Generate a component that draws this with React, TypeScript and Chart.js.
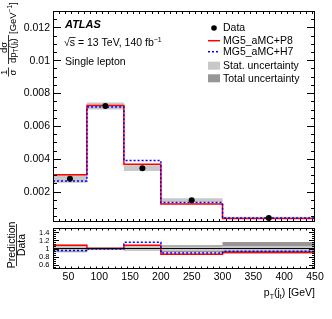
import React, { useEffect, useRef } from "react";
import { Chart, registerables } from "chart.js";
Chart.register(...registerables);

const FONT = '"Liberation Sans", Arial, Helvetica, sans-serif';

// ---- data ----
const binEdges = [25, 80, 140, 200, 300, 450];
const binCenters = [52.5, 110, 170, 250, 375];
const dataVals = [0.00279, 0.00721, 0.00343, 0.00148, 0.0004];
const p8Vals = [0.00302, 0.00724, 0.00367, 0.00125, 0.00036];
const h7Vals = [0.00265, 0.00715, 0.00389, 0.00133, 0.00039];
// relative uncertainties (fractions of data)
const totalUp = [0.09, 0.03, 0.05, 0.08, 0.16];
const totalDown = [0.09, 0.03, 0.05, 0.09, 0.13];
const statUp = [0.07, 0.02, 0.04, 0.05, 0.06];
const statDown = [0.07, 0.02, 0.04, 0.06, 0.07];
// prediction / data
const ratioP8 = [1.08, 1.0, 1.08, 0.86, 0.91];
const ratioH7 = [0.95, 0.99, 1.15, 0.89, 0.93];

// ---- ticks ----
const xMajorTicks = [50, 100, 150, 200, 250, 300, 350, 400, 450];
const xTickLabels = ["50", "100", "150", "200", "250", "300", "350", "400", "450"];
const yMainTicks = [0.002, 0.004, 0.006, 0.008, 0.01, 0.012];
const yMainLabels = ["0.002", "0.004", "0.006", "0.008", "0.01", "0.012"];
const yRatioTicks = [0.6, 0.8, 1, 1.2, 1.4];
const yRatioLabels = ["0.6", "0.8", "1", "1.2", "1.4"];

const X_MIN = 25, X_MAX = 450;
const Y_MIN = 0.00015, Y_MAX = 0.013;
const R_MIN = 0.5, R_MAX = 1.5;

const RED = "#ff0000";
const BLUE = "#0000ff";
const LIGHT = "#c8c8c8";
const DARK = "#969696";

function stepPoints(vals: number[]) {
  return binEdges.map((e, i) => ({ x: e, y: vals[Math.min(i, vals.length - 1)] }));
}

type Part = { t: string; size: number; dy?: number; style?: string };
function drawRich(ctx: CanvasRenderingContext2D, parts: Part[], x: number, y: number) {
  let cx = x;
  for (const p of parts) {
    ctx.font = `${p.style || ""} ${p.size}px ${FONT}`;
    ctx.fillText(p.t, cx, y + (p.dy || 0));
    cx += ctx.measureText(p.t).width;
  }
  return cx - x;
}
function richWidth(ctx: CanvasRenderingContext2D, parts: Part[]) {
  let w = 0;
  for (const p of parts) {
    ctx.font = `${p.style || ""} ${p.size}px ${FONT}`;
    w += ctx.measureText(p.t).width;
  }
  return w;
}

function drawTicks(
  chart: any,
  xMinorStep: number,
  xMajLen: number,
  xMinLen: number,
  yMajor: number[],
  yMinorStep: number,
  yMin: number,
  yMax: number,
  yMajLen: number,
  yMinLen: number
) {
  const { ctx, chartArea: a, scales } = chart;
  const xs = scales.x, ys = scales.y;
  ctx.save();
  ctx.strokeStyle = "#000";
  ctx.lineWidth = 1;
  ctx.beginPath();
  const nx = Math.round((X_MAX - X_MIN) / xMinorStep);
  for (let i = 0; i <= nx; i++) {
    const v = X_MIN + i * xMinorStep;
    if (v <= X_MIN || v >= X_MAX) continue;
    const isMaj = xMajorTicks.some((m) => Math.abs(m - v) < 1e-6);
    const len = isMaj ? xMajLen : xMinLen;
    const px = Math.round(xs.getPixelForValue(v)) + 0.5;
    ctx.moveTo(px, a.bottom);
    ctx.lineTo(px, a.bottom - len);
    ctx.moveTo(px, a.top);
    ctx.lineTo(px, a.top + len);
  }
  const ny = Math.round((yMax - 0) / yMinorStep) + 2;
  for (let i = 0; i <= ny; i++) {
    const v = i * yMinorStep;
    if (v <= yMin || v >= yMax) continue;
    const isMaj = yMajor.some((m) => Math.abs(m - v) < 1e-9);
    const len = isMaj ? yMajLen : yMinLen;
    const py = Math.round(ys.getPixelForValue(v)) + 0.5;
    ctx.moveTo(a.left, py);
    ctx.lineTo(a.left + len, py);
    ctx.moveTo(a.right, py);
    ctx.lineTo(a.right - len, py);
  }
  ctx.stroke();
  ctx.strokeRect(a.left + 0.5, a.top + 0.5, a.right - a.left - 1, a.bottom - a.top - 1);
  ctx.restore();
}

function rot(ctx: CanvasRenderingContext2D, sx: number, sy: number, fn: () => void) {
  ctx.save();
  ctx.translate(sx, sy);
  ctx.rotate(-Math.PI / 2);
  fn();
  ctx.restore();
}

const mainPlugin = {
  id: "mainDecor",
  afterDraw(chart: any) {
    const { ctx, scales } = chart;
    drawTicks(chart, 10, 6, 3, yMainTicks, 0.0005, Y_MIN, Y_MAX, 8, 4);
    ctx.save();
    ctx.fillStyle = "#000";
    // y tick labels
    ctx.textAlign = "right";
    ctx.textBaseline = "middle";
    ctx.font = `10.5px ${FONT}`;
    yMainTicks.forEach((v, i) => {
      ctx.fillText(yMainLabels[i], 50, scales.y.getPixelForValue(v) + 0.5);
    });
    // annotations
    ctx.textAlign = "left";
    ctx.textBaseline = "alphabetic";
    ctx.font = `bold italic 11px ${FONT}`;
    ctx.fillText("ATLAS", 65, 28);
    ctx.font = `10.5px ${FONT}`;
    const w1 = drawRich(ctx, [{ t: "\u221A", size: 10.5 }], 64, 46);
    const sW = richWidth(ctx, [{ t: "s", size: 10.5 }]);
    ctx.beginPath();
    ctx.moveTo(64 + w1 - 0.5, 37.5);
    ctx.lineTo(64 + w1 + sW + 0.5, 37.5);
    ctx.lineWidth = 0.8;
    ctx.strokeStyle = "#000";
    ctx.stroke();
    drawRich(
      ctx,
      [
        { t: "s = 13 TeV, 140 fb", size: 10.5 },
        { t: "\u22121", size: 7, dy: -4 },
      ],
      64 + w1,
      46
    );
    ctx.font = `10.5px ${FONT}`;
    ctx.fillText("Single lepton", 65, 65);

    // legend
    const lx = 223;
    const rows = [28, 40.7, 51.7, 65.7, 78.3];
    const labels = ["Data", "MG5_aMC+P8", "MG5_aMC+H7", "Stat. uncertainty", "Total uncertainty"];
    ctx.beginPath();
    ctx.arc(214, rows[0], 2.8, 0, Math.PI * 2);
    ctx.fill();
    ctx.strokeStyle = RED;
    ctx.lineWidth = 1.5;
    ctx.beginPath();
    ctx.moveTo(208, rows[1]);
    ctx.lineTo(220, rows[1]);
    ctx.stroke();
    ctx.strokeStyle = BLUE;
    ctx.setLineDash([2, 2]);
    ctx.beginPath();
    ctx.moveTo(208, rows[2]);
    ctx.lineTo(220, rows[2]);
    ctx.stroke();
    ctx.setLineDash([]);
    ctx.fillStyle = LIGHT;
    ctx.fillRect(208, rows[3] - 4, 12, 8);
    ctx.fillStyle = DARK;
    ctx.fillRect(208, rows[4] - 4, 12, 8);
    ctx.fillStyle = "#000";
    ctx.font = `10.5px ${FONT}`;
    ctx.textBaseline = "middle";
    labels.forEach((l, i) => ctx.fillText(l, lx, rows[i] + 0.5));

    // y title
    ctx.textBaseline = "alphabetic";
    ctx.textAlign = "left";
    // 1/sigma
    rot(ctx, 7, 75, () => drawRich(ctx, [{ t: "1", size: 9.5 }], 0, 0));
    ctx.beginPath();
    ctx.lineWidth = 0.8;
    ctx.strokeStyle = "#000";
    ctx.moveTo(8.5, 76.5);
    ctx.lineTo(8.5, 67.5);
    ctx.stroke();
    rot(ctx, 15.5, 75.5, () => drawRich(ctx, [{ t: "\u03C3", size: 9.5 }], 0, 0));
    // d sigma / dp_T(j_t)
    rot(ctx, 7, 53, () => drawRich(ctx, [{ t: "d\u03C3", size: 9.5 }], 0, 0));
    ctx.beginPath();
    ctx.moveTo(8.5, 64);
    ctx.lineTo(8.5, 35);
    ctx.stroke();
    rot(ctx, 15.5, 63, () =>
      drawRich(
        ctx,
        [
          { t: "dp", size: 9.5 },
          { t: "T", size: 6.5, dy: 2 },
          { t: "(j", size: 9.5 },
          { t: "t", size: 6.5, dy: 2 },
          { t: ")", size: 9.5 },
        ],
        0,
        0
      )
    );
    rot(ctx, 15.5, 34, () =>
      drawRich(
        ctx,
        [
          { t: "[GeV", size: 9.5 },
          { t: "\u22121", size: 6.5, dy: -4 },
          { t: "]", size: 9.5 },
        ],
        0,
        0
      )
    );
    ctx.restore();
  },
};

const ratioPlugin = {
  id: "ratioDecor",
  afterDraw(chart: any) {
    const { ctx, scales, chartArea: a } = chart;
    drawTicks(chart, 10, 5, 2.5, yRatioTicks, 0.05, R_MIN, R_MAX, 6, 3);
    ctx.save();
    ctx.fillStyle = "#000";
    ctx.textAlign = "right";
    ctx.textBaseline = "middle";
    ctx.font = `7.5px ${FONT}`;
    yRatioTicks.forEach((v, i) => {
      ctx.fillText(yRatioLabels[i], 49.5, scales.y.getPixelForValue(v) + 0.5);
    });
    ctx.textAlign = "center";
    ctx.textBaseline = "alphabetic";
    ctx.font = `10.5px ${FONT}`;
    xMajorTicks.forEach((v, i) => {
      ctx.fillText(xTickLabels[i], scales.x.getPixelForValue(v), a.bottom + 10.5);
    });
    // x title
    ctx.textAlign = "left";
    const parts: Part[] = [
      { t: "p", size: 10.5 },
      { t: "T", size: 7, dy: 3 },
      { t: "(j", size: 10.5 },
      { t: "t", size: 7, dy: 3 },
      { t: ") [GeV]", size: 10.5 },
    ];
    const w = richWidth(ctx, parts);
    drawRich(ctx, parts, 315 - w, 296);
    // y title Prediction / Data
    ctx.textAlign = "center";
    ctx.font = `10.5px ${FONT}`;
    rot(ctx, 14.5, 245, () => ctx.fillText("Prediction", 0, 0));
    rot(ctx, 25, 245, () => ctx.fillText("Data", 0, 0));
    ctx.beginPath();
    ctx.lineWidth = 0.8;
    ctx.strokeStyle = "#000";
    ctx.moveTo(16.5, 224);
    ctx.lineTo(16.5, 266);
    ctx.stroke();
    ctx.restore();
  },
};

function lineDs(label: string, vals: number[], color: string, width: number, dash: number[], order: number, fill: any = false, bg = "transparent") {
  return {
    label,
    data: stepPoints(vals),
    stepped: true,
    borderColor: color,
    borderWidth: width,
    borderDash: dash,
    pointRadius: 0,
    fill,
    backgroundColor: bg,
    order,
  };
}

export default function App() {
  const mainRef = useRef<HTMLCanvasElement>(null);
  const ratioRef = useRef<HTMLCanvasElement>(null);

  useEffect(() => {
    const mainLow = dataVals.map((d, i) => d * (1 - totalDown[i]));
    const mainHigh = dataVals.map((d, i) => d * (1 + totalUp[i]));
    const c1 = new Chart(mainRef.current as HTMLCanvasElement, {
      type: "line",
      data: {
        datasets: [
          {
            label: "Data",
            data: binCenters.map((x, i) => ({ x, y: dataVals[i] })),
            showLine: false,
            pointRadius: 3,
            pointBackgroundColor: "#000",
            pointBorderWidth: 0,
            borderColor: "#000",
            order: 0,
          } as any,
          lineDs("MG5_aMC+H7", h7Vals, BLUE, 1.5, [2, 2], 1),
          lineDs("MG5_aMC+P8", p8Vals, RED, 1.5, [], 2),
          lineDs("low", mainLow, "transparent", 0, [], 3),
          lineDs("high", mainHigh, "transparent", 0, [], 4, 3, LIGHT),
        ],
      },
      options: {
        responsive: false,
        devicePixelRatio: 1,
        animation: false,
        layout: { padding: { left: 53, top: 11, right: 17, bottom: 97 } },
        scales: {
          x: { type: "linear", min: X_MIN, max: X_MAX, display: false },
          y: { type: "linear", min: Y_MIN, max: Y_MAX, display: false },
        },
        plugins: { legend: { display: false }, tooltip: { enabled: false } },
      },
      plugins: [mainPlugin],
    } as any);

    const ones = binEdges.slice(0, 5).map(() => 1);
    const c2 = new Chart(ratioRef.current as HTMLCanvasElement, {
      type: "line",
      data: {
        datasets: [
          lineDs("one", ones, "#000", 1, [], 0),
          lineDs("H7", ratioH7, BLUE, 1.5, [2, 2], 1),
          lineDs("P8", ratioP8, RED, 1.5, [], 2),
          lineDs("statLow", statDown.map((s) => 1 - s), "transparent", 0, [], 3),
          lineDs("statHigh", statUp.map((s) => 1 + s), "transparent", 0, [], 4, 3, LIGHT),
          lineDs("totLow", totalDown.map((s) => 1 - s), "transparent", 0, [], 5),
          lineDs("totHigh", totalUp.map((s) => 1 + s), "transparent", 0, [], 6, 5, DARK),
        ],
      },
      options: {
        responsive: false,
        devicePixelRatio: 1,
        animation: false,
        layout: { padding: { left: 53, top: 228, right: 17, bottom: 50 } },
        scales: {
          x: { type: "linear", min: X_MIN, max: X_MAX, display: false },
          y: { type: "linear", min: R_MIN, max: R_MAX, display: false },
        },
        plugins: { legend: { display: false }, tooltip: { enabled: false } },
      },
      plugins: [ratioPlugin],
    } as any);

    return () => {
      c1.destroy();
      c2.destroy();
    };
  }, []);

  return (
    <div style={{ position: "absolute", left: 0, top: 0, width: 332, height: 319, background: "#fff" }}>
      <canvas ref={mainRef} width={332} height={319} style={{ position: "absolute", left: 0, top: 0 }} />
      <canvas ref={ratioRef} width={332} height={319} style={{ position: "absolute", left: 0, top: 0 }} />
    </div>
  );
}
